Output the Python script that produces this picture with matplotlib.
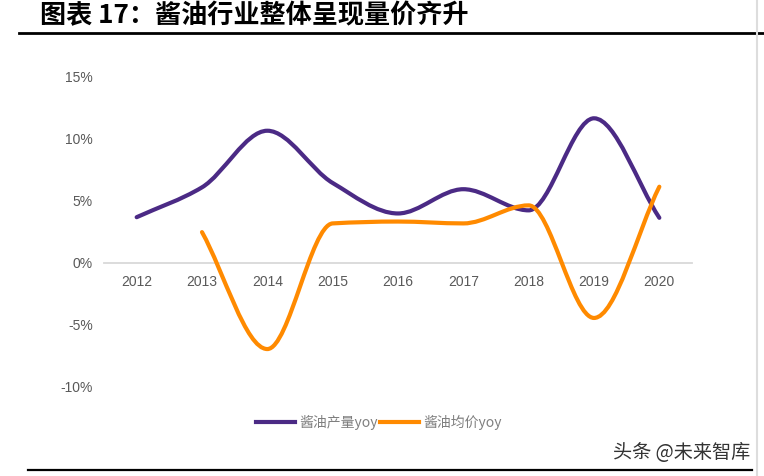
import numpy as np
import matplotlib
matplotlib.use("Agg")
import matplotlib.pyplot as plt
from matplotlib.path import Path
from matplotlib.patches import PathPatch
from matplotlib.lines import Line2D

plt.rcParams['font.family'] = ['Liberation Sans', 'Noto Sans CJK SC', 'DejaVu Sans']

# data
years = ["2012", "2013", "2014", "2015", "2016", "2017", "2018", "2019", "2020"]
volume_yoy = [3.65, 6.05, 10.6, 6.4, 3.95, 5.9, 4.2, 11.6, 3.6]      # 酱油产量yoy (%)
price_yoy = [None, 2.45, -6.95, 3.15, 3.3, 3.15, 4.6, -4.45, 6.1]    # 酱油均价yoy (%)
series_names = ["酱油产量yoy", "酱油均价yoy"]
colors = ["#4B2A85", "#FF8A00"]


def smooth_path(xs, ys):
    # smoothed line drawn as cubic bezier segments through the points
    xs = np.asarray(xs, float)
    ys = np.asarray(ys, float)
    d = np.diff(ys) / np.diff(xs)
    m = np.zeros(len(ys))
    m[0], m[-1] = d[0], d[-1]
    for i in range(1, len(ys) - 1):
        if d[i - 1] * d[i] > 0:
            m[i] = 2.0 / (1.0 / d[i - 1] + 1.0 / d[i])
    verts = [(xs[0], ys[0])]
    codes = [Path.MOVETO]
    for i in range(len(ys) - 1):
        h = xs[i + 1] - xs[i]
        verts += [(xs[i] + h / 3, ys[i] + m[i] * h / 3),
                  (xs[i + 1] - h / 3, ys[i + 1] - m[i + 1] * h / 3),
                  (xs[i + 1], ys[i + 1])]
        codes += [Path.CURVE4] * 3
    return Path(verts, codes)


fig = plt.figure(figsize=(7.64, 4.76), dpi=100)
ax = fig.add_axes([104 / 764, 1 - 387 / 476, 588 / 764, (387 - 76) / 476])

for vals, c in zip([volume_yoy, price_yoy], colors):
    idx = [i for i, v in enumerate(vals) if v is not None]
    ys = [vals[i] for i in idx]
    ax.add_patch(PathPatch(smooth_path(idx, ys), fill=False, edgecolor=c,
                           lw=3.0, capstyle='round', joinstyle='round', zorder=3))

ax.set_xlim(-0.5, len(years) - 0.5)
ax.set_ylim(-10, 15)
ax.set_yticks([-10, -5, 0, 5, 10, 15])
ax.set_yticklabels([f"{v}%" for v in [-10, -5, 0, 5, 10, 15]])
ax.set_xticks(range(len(years)))
ax.set_xticklabels(years)

for s in ['top', 'right', 'left']:
    ax.spines[s].set_visible(False)
ax.spines['bottom'].set_position(('data', 0))
ax.spines['bottom'].set_color('#D9D9D9')
ax.spines['bottom'].set_linewidth(1.3)
ax.tick_params(axis='x', length=0, pad=9, labelsize=10, labelcolor='#595959')
ax.tick_params(axis='y', length=0, pad=8, labelsize=10, labelcolor='#595959')

# legend
handles = [Line2D([], [], color=c, lw=3.0) for c in colors]
fig.legend(handles, series_names, loc='center', bbox_to_anchor=(379 / 764, 1 - 422 / 476),
           ncol=2, frameon=False, handlelength=2.8, handletextpad=0.3, columnspacing=0.2,
           prop={'family': ['Noto Sans CJK SC', 'DejaVu Sans'], 'size': 10},
           labelcolor='#7F7F7F')

# title and rules
fig.text(40 / 764, 1 - 16 / 476, "图表 17：酱油行业整体呈现量价齐升", ha='left', va='center',
         fontsize=18.8, fontweight='bold', family=['Noto Sans CJK SC', 'DejaVu Sans'], color='black')
fig.add_artist(Line2D([19 / 764, 1], [1 - 33 / 476] * 2, color='black', lw=2.0))
fig.add_artist(Line2D([28 / 764, 752 / 764], [1 - 470 / 476] * 2, color='black', lw=1.6))
fig.add_artist(Line2D([757 / 764] * 2, [0, 1], color='#DDDDDD', lw=1.5))

fig.text(750 / 764, 1 - 452 / 476, "头条 @未来智库", ha='right', va='center', fontsize=13.8,
         family=['Noto Sans CJK SC', 'DejaVu Sans'], color='#333333')

fig.savefig("out.png", dpi=100)
